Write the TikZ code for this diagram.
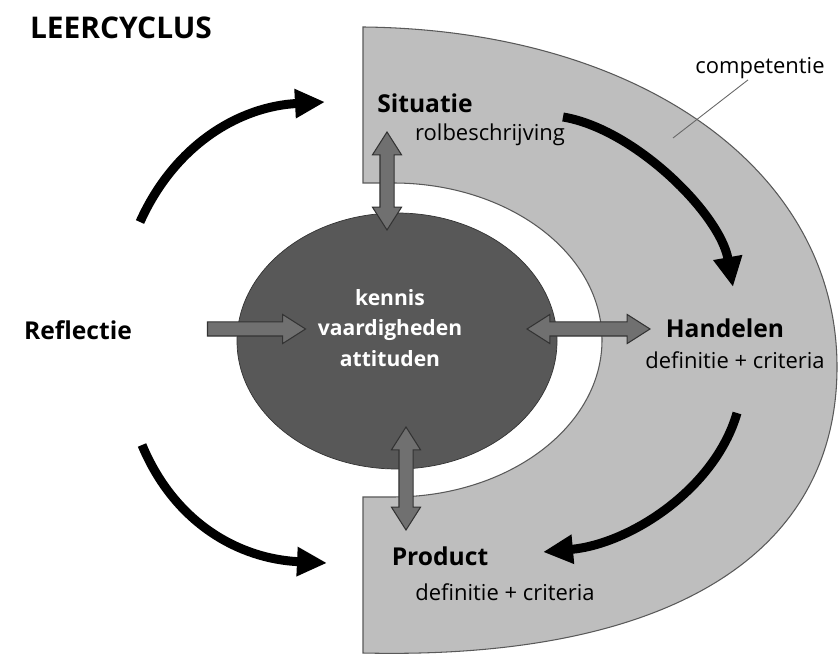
\documentclass[tikz,border=0pt]{standalone}
\usepackage{fontspec}
\setmainfont{Open Sans}
\usetikzlibrary{arrows.meta, shapes.geometric, shapes.arrows, positioning}
\definecolor{ringgray}{RGB}{190,190,190}
\definecolor{coregray}{RGB}{88,88,88}
\definecolor{blockgray}{RGB}{112,112,112}
\tikzset{
	titletext/.style={
			font=\fontsize{17}{20}\selectfont\bfseries
		},
	steptext/.style={
			font=\fontsize{14}{17}\selectfont\bfseries
		},
	subtext/.style={
			font=\fontsize{12.5}{15}\selectfont
		},
	corelabel/.style={
			font=\fontsize{12}{17.5}\selectfont\bfseries,
			text=white,
			align=center
		},
	cyclearrow/.style={
			line width=1.8mm,
			-{Triangle[length=6mm, width=5.5mm]}
		},
	blockarrow/.style={
			draw=black!80,
			fill=blockgray,
			line width=0.6pt,
			inner sep=1.3mm
		},
	singleblock/.style={
			blockarrow,
			single arrow,
			single arrow head extend=1.5mm,
			single arrow tip angle=65
		},
	doubleblock/.style={
			blockarrow,
			double arrow,
			double arrow head extend=1.5mm,
			double arrow tip angle=65
		}
}

\begin{document}
\begin{tikzpicture}
  \useasboundingbox (0,0) rectangle (16.78,13.08);

  % competentie ring
  \draw[draw=black!65, fill=ringgray, line width=0.6pt]
    (7.26,12.54) .. controls (12.8,12.48) and (16.74,9.68) .. (16.74,5.74)
    .. controls (16.74,1.88) and (13.2,-0.12) .. (7.26,0.02)
    -- (7.26,3.14) -- (7.86,3.14)
    arc[start angle=-90, end angle=90, x radius=4.18, y radius=3.14]
    -- (7.26,9.42) -- cycle;

  % kern
  \node[ellipse, draw=black!80, fill=coregray, minimum width=6.4cm, minimum height=5.12cm] (core) at (7.94,6.26) {};
  \node[corelabel] (coretext) at (7.8,6.52) {kennis\\vaardigheden\\attituden};

  % labels
  \node[titletext] (title) at (2.42,12.52) {LEERCYCLUS};
  \node[steptext] (situatie) at (8.5,11.02) {Situatie};
  \node[subtext] (rol) at (9.8,10.38) {rolbeschrijving};
  \node[subtext] (comp) at (15.2,11.72) {competentie};
  \node[steptext] (handelen) at (14.5,6.52) {Handelen};
  \node[subtext] (handcrit) at (14.7,5.88) {definitie + criteria};
  \node[steptext] (product) at (8.8,1.96) {Product};
  \node[subtext] (prodcrit) at (10.1,1.24) {definitie + criteria};
  \node[steptext] (reflectie) at (1.56,6.48) {Reflectie};

  \coordinate (comppt) at (13.46,10.32);
  \draw[black!60, line width=0.5pt] (comppt) -- ([xshift=-2.4mm, yshift=1mm]comp.south);

  % block arrows
  \node[doubleblock, rotate=90, minimum height=1.96cm] (sitarrow) at (7.74,9.46) {};
  \node[doubleblock, rotate=90, minimum height=2.06cm] (prodarrow) at (8.12,3.51) {};
  \node[doubleblock, minimum height=2.46cm] (handarrow) at (11.77,6.5) {};
  \node[singleblock, minimum height=1.96cm] (reflarrow) at (5.02,6.5) {};

  % cycle arrows
  \coordinate (tlstart) at (2.8,8.64);
  \coordinate (tlend) at (6.5,11.04);
  \coordinate (blstart) at (2.84,4.18);
  \coordinate (blend) at (6.54,1.82);
  \coordinate (trstart) at (11.26,10.74);
  \coordinate (trend) at (14.66,7.34);
  \coordinate (brstart) at (14.74,4.82);
  \coordinate (brend) at (10.86,2.04);
  \draw[cyclearrow] (tlstart) .. controls (3.5,10.2) and (4.8,10.95) .. (tlend);
  \draw[cyclearrow] (blstart) .. controls (3.5,2.6) and (4.8,1.9) .. (blend);
  \draw[cyclearrow] (trstart) .. controls (12.7,10.5) and (14.4,8.8) .. (trend);
  \draw[cyclearrow] (brstart) .. controls (14.3,3.3) and (12.6,2.2) .. (brend);
\end{tikzpicture}
\end{document}
